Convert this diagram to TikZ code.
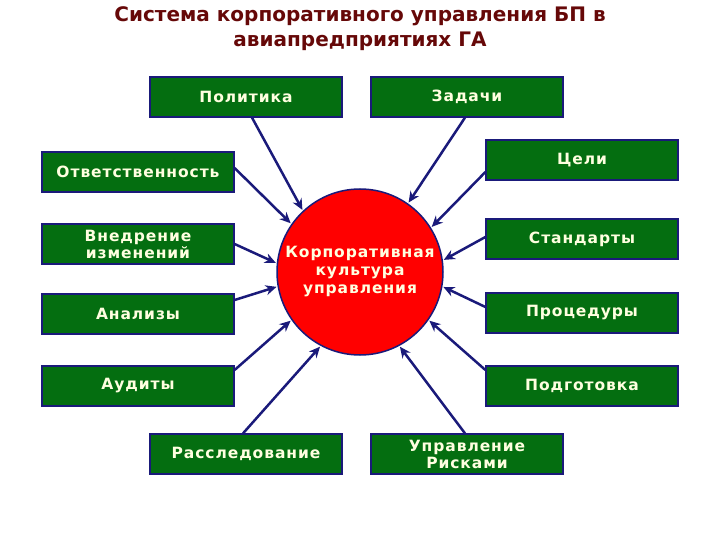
\documentclass[tikz,border=0pt]{standalone}
\usepackage{fontspec}
\setmainfont{DejaVu Sans}
\newfontfamily\boxfont[LetterSpace=6]{DejaVu Sans}
\usetikzlibrary{arrows.meta}
\definecolor{bgreen}{HTML}{046E10}
\definecolor{navy}{HTML}{1A1A7A}
\definecolor{titred}{HTML}{660808}
\definecolor{txt}{HTML}{FFFFE0}
\tikzset{
 gbox/.style={draw=navy,line width=1.2pt,fill=bgreen,minimum width=192pt,minimum height=40pt,inner sep=0pt,
   text=txt,font=\boxfont\bfseries\fontsize{15.5}{17}\selectfont,align=center},
 arr/.style={draw=navy,line width=2.5pt,-{Stealth[length=11pt,width=10pt]},shorten >=1pt}
}
\begin{document}
\begin{tikzpicture}[x=1pt,y=-1pt]
\useasboundingbox (0,0) rectangle (720,540);
\node[text=titred,font=\bfseries\fontsize{20}{25}\selectfont,align=center] (t) at (360,29)
 {Система корпоративного управления БП в\\авиапредприятиях ГА};
\node[circle,draw=navy,line width=1.5pt,fill=red,minimum size=166pt,inner sep=0pt,
 text=txt,font=\boxfont\bfseries\fontsize{15.5}{18}\selectfont,align=center] (c) at (360,272)
 {Корпоративная\\культура\\управления};
\node[gbox] (pol) at (246,97) {Политика};
\node[gbox] (zad) at (467,97) {Задачи};
\node[gbox] (cel) at (582,160) {Цели};
\node[gbox] (otv) at (138,172) {Ответственность};
\node[gbox] (vne) at (138,244) {Внедрение\\изменений};
\node[gbox] (sta) at (582,239) {Стандарты};
\node[gbox] (ana) at (138,314) {Анализы};
\node[gbox] (pro) at (582,313) {Процедуры};
\node[gbox] (aud) at (138,386) {Аудиты};
\node[gbox] (pod) at (582,386) {Подготовка};
\node[gbox] (ras) at (246,454) {Расследование};
\node[gbox] (upr) at (467,454) {Управление\\Рисками};
\draw[arr] ([xshift=6pt]pol.south) -- (c.133);
\draw[arr] ([xshift=-2pt]zad.south) -- (c.55);
\draw[arr] ([yshift=-12pt]cel.west) -- (c.32);
\draw[arr] ([yshift=4pt]otv.east) -- (c.145);
\draw[arr] (vne.east) -- (c.174);
\draw[arr] ([yshift=2pt]sta.west) -- (c.8);
\draw[arr] ([yshift=14pt]ana.east) -- (c.190);
\draw[arr] ([yshift=6pt]pro.west) -- (c.-10);
\draw[arr] ([yshift=16pt]aud.east) -- (c.215);
\draw[arr] ([yshift=16pt]pod.west) -- (c.-35);
\draw[arr] ([xshift=-3pt]ras.north) -- (c.242);
\draw[arr] ([xshift=-2pt]upr.north) -- (c.-62);
\end{tikzpicture}
\end{document}
